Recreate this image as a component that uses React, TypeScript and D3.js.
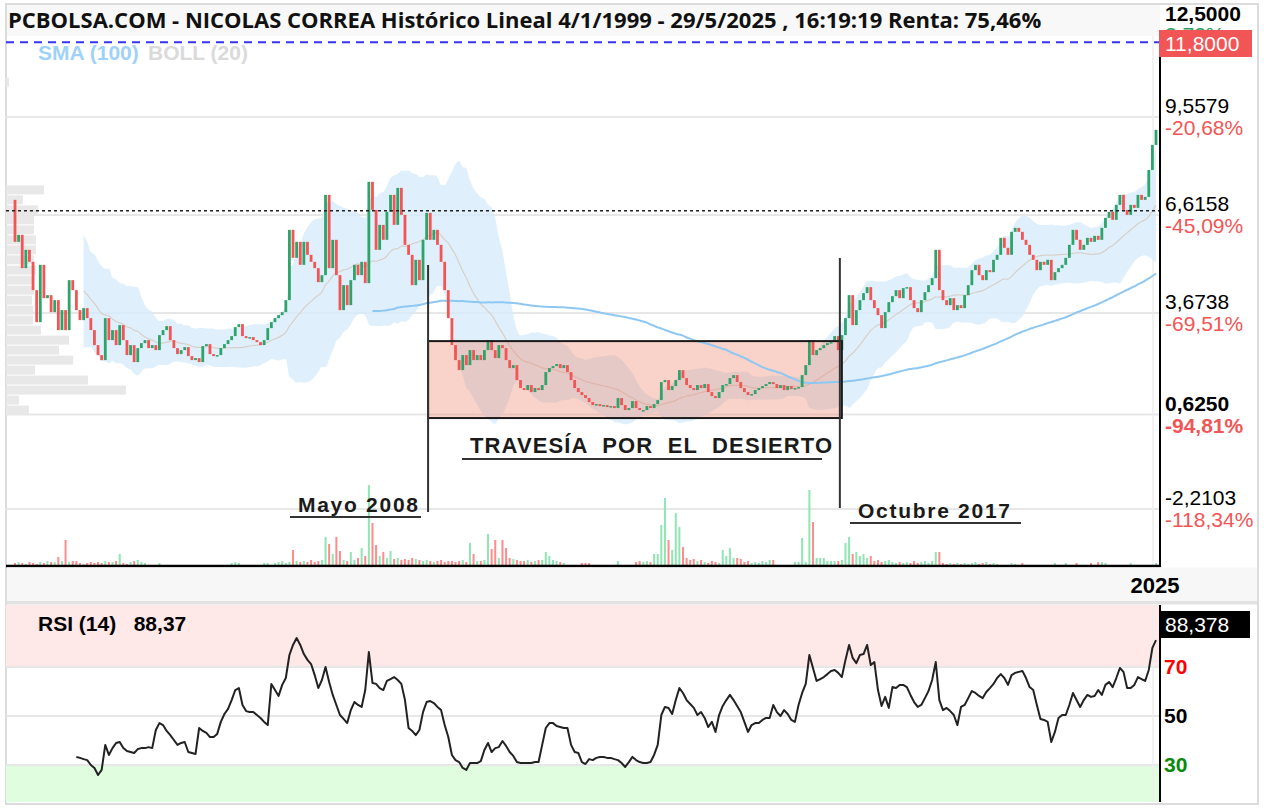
import React from 'react';
import * as d3 from 'd3';

// ---------- DATA (monthly, Jan 1999 .. May 2025) ----------
const firstOpen = 7.07;
const closes: number[] = [
  5.81, 6.02, 5.02, 5.57, 5.21, 4.36, 3.40, 5.12, 4.12, 4.21,
  3.70, 4.06, 3.16, 3.76, 3.16, 4.66, 4.36, 3.76, 3.46, 3.82,
  3.52, 3.16, 2.71, 2.41, 2.26, 3.52, 2.86, 3.16, 2.71, 3.31,
  2.86, 2.41, 2.71, 2.20, 2.62, 2.77, 2.86, 2.62, 2.71, 2.56,
  3.01, 3.16, 3.28, 2.86, 2.62, 2.44, 2.56, 2.65, 2.38, 2.26,
  2.32, 2.20, 2.68, 2.74, 2.44, 2.38, 2.41, 2.62, 2.74, 2.86,
  2.98, 3.25, 3.34, 2.98, 2.92, 2.95, 2.86, 2.80, 2.71, 2.86,
  3.22, 3.40, 3.52, 3.61, 3.70, 4.06, 6.17, 5.33, 5.81, 5.12,
  5.81, 5.42, 5.21, 5.02, 4.60, 4.81, 7.22, 5.02, 5.87, 4.81,
  3.76, 4.51, 3.91, 4.66, 5.12, 4.81, 5.21, 4.57, 7.61, 6.77,
  5.57, 6.32, 5.87, 6.71, 7.22, 6.32, 7.43, 6.62, 5.72, 5.42,
  4.51, 5.27, 4.66, 5.87, 6.68, 5.87, 6.17, 5.72, 5.21, 4.36,
  3.52, 2.71, 2.26, 1.96, 2.41, 2.11, 2.56, 2.26, 2.41, 2.26,
  2.56, 2.86, 2.56, 2.32, 2.71, 2.62, 2.26, 2.02, 2.11, 1.66,
  1.42, 1.36, 1.51, 1.30, 1.42, 1.36, 1.51, 1.90, 2.02, 2.08,
  2.14, 2.02, 2.11, 1.90, 1.66, 1.42, 1.30, 1.21, 1.12, 1.00,
  0.91, 0.94, 0.88, 0.91, 0.85, 0.88, 0.82, 1.12, 0.91, 0.76,
  0.82, 1.03, 0.82, 0.76, 0.76, 0.88, 0.82, 0.94, 1.06, 1.60,
  1.66, 1.36, 1.48, 1.66, 1.96, 1.72, 1.51, 1.42, 1.36, 1.51,
  1.42, 1.54, 1.30, 1.18, 1.12, 1.30, 1.51, 1.54, 1.72, 1.81,
  1.60, 1.42, 1.30, 1.21, 1.24, 1.36, 1.42, 1.48, 1.54, 1.60,
  1.54, 1.42, 1.51, 1.36, 1.48, 1.39, 1.42, 1.45, 1.81, 2.11,
  2.86, 2.41, 2.56, 2.62, 2.71, 2.77, 2.80, 2.98, 2.56, 3.01,
  3.52, 4.21, 3.31, 3.76, 4.06, 4.27, 4.45, 4.06, 3.82, 3.61,
  3.22, 3.70, 4.00, 4.18, 4.36, 4.12, 4.42, 4.45, 4.06, 3.82,
  3.70, 4.06, 4.30, 4.51, 4.72, 5.57, 4.36, 4.06, 3.91, 4.12,
  3.76, 3.91, 3.82, 4.21, 4.51, 4.96, 5.12, 4.81, 4.66, 4.96,
  4.90, 5.27, 5.42, 5.93, 5.63, 5.42, 6.11, 6.23, 6.11, 5.87,
  5.72, 5.42, 5.27, 4.96, 5.21, 5.12, 5.27, 4.66, 4.90, 5.02,
  5.12, 5.33, 5.72, 6.17, 5.87, 5.57, 5.72, 5.93, 5.81, 5.99,
  5.87, 6.23, 6.53, 6.71, 6.47, 6.92, 7.22, 6.77, 6.62, 6.92,
  6.83, 7.22, 7.07, 7.16, 7.97, 8.72, 9.17,
];

const volumes: number[] = [
  3, 4, 3, 2, 4, 3, 2, 4, 3, 5,
  4, 4, 9, 5, 26, 4, 5, 5, 3, 2,
  3, 4, 3, 4, 3, 5, 4, 4, 5, 12,
  3, 2, 4, 5, 6, 4, 3, 1, 1, 1,
  3, 0, 0, 0, 0, 0, 0, 0, 0, 0,
  0, 0, 0, 0, 0, 0, 0, 0, 0, 0,
  3, 4, 3, 0, 0, 0, 0, 0, 0, 3,
  3, 0, 3, 4, 5, 3, 4, 16, 5, 4,
  5, 4, 6, 4, 5, 6, 29, 22, 12, 29,
  15, 6, 5, 14, 6, 8, 18, 10, 81, 43,
  21, 10, 14, 8, 15, 7, 8, 6, 7, 6,
  8, 7, 6, 5, 6, 5, 4, 5, 6, 4,
  5, 5, 4, 5, 6, 4, 23, 12, 5, 5,
  6, 32, 17, 26, 8, 26, 18, 8, 7, 6,
  5, 5, 6, 4, 5, 6, 6, 14, 10, 6,
  5, 4, 3, 0, 0, 0, 0, 3, 3, 3,
  0, 0, 0, 0, 0, 0, 0, 5, 0, 0,
  0, 0, 4, 5, 4, 5, 4, 12, 12, 41,
  68, 26, 16, 53, 39, 19, 8, 6, 7, 5,
  6, 4, 3, 5, 4, 3, 16, 10, 18, 8,
  8, 7, 4, 5, 3, 4, 3, 5, 4, 6,
  6, 0, 0, 0, 0, 0, 4, 4, 28, 4,
  76, 44, 8, 8, 8, 5, 5, 5, 5, 6,
  23, 29, 12, 14, 10, 12, 8, 10, 5, 6,
  4, 5, 6, 4, 3, 4, 3, 4, 3, 5,
  3, 4, 5, 3, 5, 14, 14, 3, 2, 3,
  2, 3, 2, 3, 2, 3, 4, 2, 3, 4,
  2, 3, 2, 0, 0, 0, 3, 2, 0, 3,
  0, 0, 0, 0, 0, 0, 0, 0, 3, 0,
  0, 3, 0, 0, 3, 0, 0, 0, 3, 0,
  4, 4, 3, 0, 0, 0, 0, 0, 0, 3,
  0, 0, 0, 0, 0, 0, 3,
];

const rsiValues: (number | null)[] = [
  null, null, null, null, null, null, null, null, null, null,
  null, null, null, null, null, null, null,
  33.3, 32.9, 32.4,
  32.0, 30.0, 28.8, 25.9, 28.0, 38.2, 34.1, 36.9, 39.0, 39.4,
  36.9, 35.7, 35.3, 34.9, 36.5, 36.9, 36.9, 37.3, 36.9, 44.3,
  47.1, 46.3, 43.9, 42.2, 40.2, 38.2, 39.0, 39.4, 35.3, 34.9,
  34.5, 45.1, 43.9, 43.1, 41.4, 41.4, 42.7, 47.6, 50.8, 52.9,
  56.5, 60.6, 61.4, 54.5, 52.0, 51.6, 51.6, 50.4, 49.2, 47.6,
  46.3, 63.1, 60.6, 58.2, 62.7, 65.5, 74.9, 79.0, 81.8, 79.0,
  75.3, 72.9, 71.2, 66.7, 61.4, 64.7, 70.0, 63.9, 58.6, 54.5,
  50.4, 48.8, 47.1, 52.4, 55.7, 54.5, 53.7, 60.6, 76.1, 63.5,
  63.1, 61.4, 60.6, 64.3, 65.1, 65.9, 64.7, 63.1, 56.5, 45.1,
  43.9, 42.2, 44.3, 51.6, 55.7, 56.1, 55.3, 53.7, 52.4, 46.3,
  41.4, 34.1, 32.0, 31.2, 28.8, 28.0, 30.8, 30.8, 30.8, 31.6,
  36.1, 39.0, 35.3, 36.9, 37.3, 39.8, 37.8, 35.3, 33.7, 31.2,
  30.8, 30.8, 30.8, 30.8, 31.2, 31.2, 38.2, 45.1, 47.1, 47.1,
  45.9, 45.5, 45.1, 45.1, 38.2, 35.3, 34.9, 31.2, 30.4, 32.4,
  32.0, 32.9, 33.3, 33.3, 32.9, 32.9, 32.4, 32.0, 30.8, 29.2,
  31.2, 33.3, 32.0, 31.2, 30.8, 30.8, 31.2, 34.1, 38.2, 50.4,
  53.7, 53.3, 50.8, 56.5, 61.4, 59.4, 56.5, 54.9, 53.3, 50.4,
  51.6, 49.2, 45.5, 47.6, 43.5, 50.4, 54.1, 56.5, 58.6, 56.5,
  54.1, 51.6, 47.6, 43.5, 46.3, 47.1, 47.1, 48.4, 49.2, 49.2,
  54.5, 51.6, 50.0, 52.4, 50.8, 48.4, 47.6, 54.5, 59.4, 63.1,
  74.9, 69.6, 64.3, 65.1, 65.9, 67.1, 68.4, 68.8, 67.6, 65.9,
  72.9, 79.0, 73.7, 71.6, 74.9, 75.3, 79.0, 70.8, 72.0, 60.6,
  54.1, 57.8, 53.3, 61.8, 61.4, 62.7, 62.7, 61.8, 58.6, 55.7,
  53.7, 54.5, 57.3, 60.2, 64.7, 72.0, 56.5, 52.4, 53.3, 52.0,
  50.4, 46.3, 53.7, 54.5, 57.3, 60.2, 59.4, 58.2, 57.3, 59.8,
  61.4, 63.1, 65.5, 67.1, 65.5, 62.7, 66.7, 67.6, 68.0, 68.4,
  65.5, 61.8, 60.6, 54.5, 48.8, 48.4, 47.6, 39.4, 43.5, 49.2,
  50.4, 50.4, 54.5, 59.4, 56.5, 53.7, 56.5, 58.6, 57.8, 58.2,
  60.6, 58.6, 62.7, 63.9, 61.8, 65.5, 69.6, 68.0, 61.4, 61.4,
  62.7, 65.9, 65.1, 64.3, 68.8, 77.8, 81.0,
];

const profilePrices: number[] = [
  10.6, 7.37, 7.07, 6.77, 6.47, 6.17, 5.87, 5.57, 5.27, 4.96, 4.66, 4.36,
  4.06, 3.76, 3.46, 3.16, 2.86, 2.56, 2.26, 1.96, 1.66, 1.36, 1.06, 0.76,
];
const profileVolumes: number[] = [
  30, 380, 170, 320, 280, 280, 300, 300, 280, 300, 280, 280,
  260, 270, 270, 350, 630, 530, 670, 290, 820, 1200, 130, 230,
];

const priceTicks: number[] = [9.5579, 6.6158, 3.6738, 0.625, -2.2103];
const priceTickLabels: string[] = ['9,5579', '6,6158', '3,6738', '0,6250', '-2,2103'];
const pctTickLabels: string[] = ['-20,68%', '-45,09%', '-69,51%', '-94,81%', '-118,34%'];
const rsiTicks: number[] = [70, 50, 30];
const lastPrice = 11.8;
const refLevel = 6.74;
const lastRsiLabel = '88,378';

// ---------- LAYOUT ----------
const W = 1264;
const H = 808;
const L = 6;
const AX = 1160;
const RIGHT = 1258;
const MAIN_TOP = 36;
const MAIN_BOT = 566;
const RSI_TOP = 605;
const RSI_BOT = 802;

const BOX_START = 114.4; // month index of "Mayo 2008"
const BOX_END = 229.0; // month index of "Octubre 2017"
const BOX_HI = 2.83;
const BOX_LO = 0.52;

export default function App() {
  const n = closes.length;
  const x = d3.scaleLinear().domain([0, n - 1]).range([15, 1156]);
  const y = d3.scaleLinear().domain([9.5579, -2.2103]).range([117, 509]);
  const yVol = d3.scaleLinear().domain([0, 81]).range([MAIN_BOT, MAIN_BOT - 81]);
  const yRsi = d3.scaleLinear().domain([70, 30]).range([667, 765]);
  const wProf = d3.scaleLinear().domain([0, 1200]).range([0, 120]);

  const opens = closes.map((c, i) => (i === 0 ? firstOpen : closes[i - 1]));

  // Bollinger (20)
  const boll = closes.map((_, i) => {
    if (i < 19) return null;
    const win = closes.slice(i - 19, i + 1);
    const m = d3.mean(win) as number;
    const sd = Math.sqrt(d3.mean(win.map((v) => (v - m) * (v - m))) as number);
    return { i, m, up: m + 2 * sd, lo: m - 2 * sd };
  });
  const bollPts = boll.filter((b) => b !== null) as { i: number; m: number; up: number; lo: number }[];
  const bandArea = d3
    .area<{ i: number; up: number; lo: number }>()
    .x((d) => x(d.i))
    .y0((d) => y(d.lo))
    .y1((d) => y(d.up))
    .curve(d3.curveMonotoneX)(bollPts);
  const midLine = d3
    .line<{ i: number; m: number }>()
    .x((d) => x(d.i))
    .y((d) => y(d.m))
    .curve(d3.curveMonotoneX)(bollPts);

  // SMA (100)
  const sma = closes
    .map((_, i) => (i < 99 ? null : { i, v: d3.mean(closes.slice(i - 99, i + 1)) as number }))
    .filter((d) => d !== null) as { i: number; v: number }[];
  const smaLine = d3
    .line<{ i: number; v: number }>()
    .x((d) => x(d.i))
    .y((d) => y(d.v))
    .curve(d3.curveMonotoneX)(sma);

  const rsiLine = d3
    .line<number | null>()
    .defined((d) => d !== null)
    .x((_, i) => x(i))
    .y((d) => yRsi(d as number))(rsiValues);

  const green = '#2ea36a';
  const red = '#f25555';
  const volGreen = '#8fe6b4';
  const volRed = '#ff8c8c';
  const grid = '#e7e7e7';
  const axisFont = 'Liberation Sans, Arial, sans-serif';

  return (
    <svg
      width={W}
      height={H}
      viewBox={`0 0 ${W} ${H}`}
      style={{ position: 'absolute', left: 0, top: 0, background: '#fff' }}
    >
      <defs>
        <clipPath id="mainClip">
          <rect x={L} y={MAIN_TOP} width={AX - L} height={MAIN_BOT - MAIN_TOP} />
        </clipPath>
        <clipPath id="rsiClip">
          <rect x={L} y={RSI_TOP} width={AX - L} height={RSI_BOT - RSI_TOP} />
        </clipPath>
        <clipPath id="pctClip">
          <rect x={AX} y={0} width={RIGHT - AX} height={30} />
        </clipPath>
      </defs>

      {/* frame */}
      <rect x={L} y={4} width={RIGHT - L} height={H - 8} fill="#fff" stroke="#dcdcdc" strokeWidth={2} />
      <rect x={L + 1} y={5} width={AX - L - 1} height={31} fill="#f8f8f8" />

      {/* main grid */}
      {priceTicks.map((t) => (
        <line key={t} x1={L} x2={AX} y1={y(t)} y2={y(t)} stroke={grid} strokeWidth={2} />
      ))}
      <line x1={1153} x2={1153} y1={MAIN_TOP} y2={MAIN_BOT} stroke="#eeeeee" strokeWidth={1.5} />

      <g clipPath="url(#mainClip)">
        {/* volume profile */}
        {profilePrices.map((p, k) => {
          const y0 = y(p + 0.15);
          const y1 = y(p - 0.15);
          return (
            <rect key={k} x={L} y={y0 + 0.5} width={wProf(profileVolumes[k])} height={y1 - y0 - 1} fill="#e8e8e8" />
          );
        })}

        {/* Bollinger band */}
        <path d={bandArea || ''} fill="#d7ecfb" fillOpacity={0.8} />
        <path d={midLine || ''} fill="none" stroke="#d8cfc8" strokeWidth={1.2} />

        {/* box fill */}
        <rect
          x={x(BOX_START)}
          y={y(BOX_HI)}
          width={x(BOX_END) - x(BOX_START)}
          height={y(BOX_LO) - y(BOX_HI)}
          fill="#f08a70"
          fillOpacity={0.38}
        />

        {/* SMA 100 */}
        <path d={smaLine || ''} fill="none" stroke="#8ec8f2" strokeWidth={2} />

        {/* volume */}
        {volumes.map((v, i) =>
          v > 0 ? (
            <rect
              key={'v' + i}
              x={x(i) - 1}
              y={yVol(v)}
              width={2}
              height={MAIN_BOT - yVol(v)}
              fill={closes[i] >= opens[i] ? volGreen : volRed}
            />
          ) : null
        )}

        {/* candles */}
        {closes.map((c, i) => {
          const o = opens[i];
          const top = y(Math.max(o, c));
          const h = Math.max(1.5, Math.abs(y(o) - y(c)));
          return (
            <rect key={'c' + i} x={x(i) - 1.4} y={top} width={2.8} height={h} fill={c >= o ? green : red} />
          );
        })}

        {/* reference lines */}
        <line x1={L} x2={AX} y1={y(refLevel)} y2={y(refLevel)} stroke="#222" strokeWidth={1.5} strokeDasharray="3 3" />
        <line x1={L} x2={AX} y1={y(lastPrice)} y2={y(lastPrice)} stroke="#3434f5" strokeWidth={2} strokeDasharray="8 6" />
      </g>

      {/* box stroke & annotations */}
      <rect
        x={x(BOX_START)}
        y={y(BOX_HI)}
        width={x(BOX_END) - x(BOX_START)}
        height={y(BOX_LO) - y(BOX_HI)}
        fill="none"
        stroke="#1a1a1a"
        strokeWidth={2}
      />
      <line x1={x(BOX_START)} x2={x(BOX_START)} y1={265} y2={512} stroke="#333" strokeWidth={2} />
      <line x1={x(BOX_END) - 2} x2={x(BOX_END) - 2} y1={258} y2={508} stroke="#333" strokeWidth={2} />

      <text
        x={470}
        y={453}
        fontFamily={axisFont}
        fontWeight="bold"
        fontSize={22}
        fill="#1a1a1a"
        textLength={362}
        lengthAdjust="spacing"
        style={{ whiteSpace: 'pre' }}
      >
        {'TRAVESÍA  POR  EL  DESIERTO'}
      </text>
      <line x1={462} x2={822} y1={459} y2={459} stroke="#333" strokeWidth={2} />

      <text
        x={298}
        y={512}
        fontFamily={axisFont}
        fontWeight="bold"
        fontSize={21}
        fill="#1a1a1a"
        textLength={120}
        lengthAdjust="spacing"
      >
        Mayo 2008
      </text>
      <line x1={290} x2={421} y1={517} y2={517} stroke="#333" strokeWidth={2} />

      <text
        x={858}
        y={518}
        fontFamily={axisFont}
        fontWeight="bold"
        fontSize={21}
        fill="#1a1a1a"
        textLength={152}
        lengthAdjust="spacing"
      >
        Octubre 2017
      </text>
      <line x1={850} x2={1021} y1={523} y2={523} stroke="#333" strokeWidth={2} />

      {/* legend */}
      <text x={38} y={60} fontFamily={axisFont} fontWeight="bold" fontSize={21} fill="#9fd2fa">
        SMA (100)
      </text>
      <text x={148} y={60} fontFamily={axisFont} fontWeight="bold" fontSize={21} fill="#dadada">
        BOLL (20)
      </text>

      {/* title */}
      <text x={8} y={28} fontFamily="Open Sans, sans-serif" fontWeight="bold" fontSize={22} fill="#111">
        PCBOLSA.COM - NICOLAS CORREA Histórico Lineal 4/1/1999 - 29/5/2025 , 16:19:19 Renta: 75,46%
      </text>

      {/* right price axis */}
      <line x1={AX} x2={AX} y1={30} y2={MAIN_BOT} stroke="#000" strokeWidth={2} />
      <line x1={L} x2={AX + 1} y1={MAIN_BOT} y2={MAIN_BOT} stroke="#000" strokeWidth={2.5} />
      <text x={1165} y={21} fontFamily={axisFont} fontWeight="bold" fontSize={21} fill="#000">
        12,5000
      </text>
      <text x={1165} y={42} fontFamily={axisFont} fontSize={21} fill="#2e9e5e" clipPath="url(#pctClip)">
        3,73%
      </text>
      <rect x={1159} y={30} width={93} height={27} fill="#f25555" />
      <text x={1165} y={51} fontFamily={axisFont} fontSize={21} fill="#fff">
        11,8000
      </text>
      {priceTicks.map((t, k) => (
        <g key={'pt' + t}>
          <text
            x={1165}
            y={y(t) - 4}
            fontFamily={axisFont}
            fontSize={21}
            fontWeight={k === 3 ? 'bold' : 'normal'}
            fill="#000"
          >
            {priceTickLabels[k]}
          </text>
          <text
            x={1165}
            y={y(t) + 18}
            fontFamily={axisFont}
            fontSize={21}
            fontWeight={k === 3 ? 'bold' : 'normal'}
            fill="#f25555"
          >
            {pctTickLabels[k]}
          </text>
        </g>
      ))}

      {/* band between panels */}
      <rect x={L + 1} y={MAIN_BOT + 1.5} width={RIGHT - L - 2} height={34} fill="#f7f7f7" />
      <text x={1155} y={593} textAnchor="middle" fontFamily={axisFont} fontWeight="bold" fontSize={22} fill="#000">
        2025
      </text>
      <rect x={L + 1} y={601} width={RIGHT - L - 2} height={3.5} fill="#e2e2e2" />

      {/* RSI panel */}
      <g clipPath="url(#rsiClip)">
        <rect x={L} y={RSI_TOP} width={AX - L} height={yRsi(70) - RSI_TOP} fill="#ffe8e8" />
        <rect x={L} y={yRsi(30)} width={AX - L} height={RSI_BOT - yRsi(30)} fill="#e0fde0" />
        {rsiTicks.map((t) => (
          <line key={'rg' + t} x1={L} x2={AX} y1={yRsi(t)} y2={yRsi(t)} stroke={grid} strokeWidth={2} />
        ))}
        <line x1={1153} x2={1153} y1={RSI_TOP} y2={RSI_BOT} stroke="#eeeeee" strokeWidth={1.5} />
        <path d={rsiLine || ''} fill="none" stroke="#222" strokeWidth={2} strokeLinejoin="round" />
      </g>
      <line x1={AX} x2={AX} y1={RSI_TOP} y2={RSI_BOT} stroke="#000" strokeWidth={2} />
      <text x={38} y={631} fontFamily={axisFont} fontWeight="bold" fontSize={21} fill="#000" style={{ whiteSpace: 'pre' }}>
        {'RSI (14)   88,37'}
      </text>
      <rect x={1159} y={611} width={91} height={27} fill="#000" />
      <text x={1165} y={632} fontFamily={axisFont} fontSize={21} fill="#fff">
        {lastRsiLabel}
      </text>
      {rsiTicks.map((t) => (
        <text
          key={'rt' + t}
          x={1164}
          y={yRsi(t) + 7}
          fontFamily={axisFont}
          fontWeight="bold"
          fontSize={21}
          fill={t === 70 ? '#ff0000' : t === 30 ? '#0a8a0a' : '#000'}
        >
          {t}
        </text>
      ))}
    </svg>
  );
}
